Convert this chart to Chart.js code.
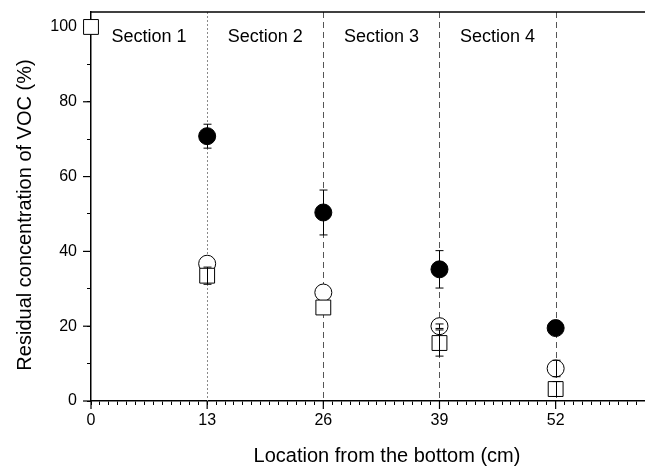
<!DOCTYPE html>
<html>
<head>
<meta charset="utf-8">
<script src="https://cdn.jsdelivr.net/npm/chart.js@4/dist/chart.umd.min.js"></script>
<style>
  body { margin: 0; background: #fff; }
  #wrap { width: 645px; height: 470px; }
</style>
</head>
<body>
<div id="wrap"><canvas id="chart" width="645" height="470"></canvas></div>
<script>
// values
var locations = [0, 13, 26, 39, 52];
var filledCircle = [null, 70.8, 50.4, 35.2, 19.5];
var filledCircleErr = [null, 3.2, 6, 5, 0.8];
var openCircle = [null, 36.7, 29, 20, 8.7];
var openCircleErr = [null, 0, 0, 0.6, 2.2];
var openSquare = [100, 33.5, 25, 15.5, 3.2];
var openSquareErr = [0, 2.3, 0, 3.5, 2];

var xMajorTicks = [0, 13, 26, 39, 52];
var yMajorTicks = [0, 20, 40, 60, 80, 100];
var sectionLines = [13, 26, 39, 52];
var sectionCenters = [6.5, 19.5, 32.5, 45.5];
var sectionLabels = ["Section 1", "Section 2", "Section 3", "Section 4"];
var xTitle = "Location from the bottom (cm)";
var yTitle = "Residual concentration of VOC (%)";

var FONT = "'Liberation Sans', Arial, sans-serif";

function withErrors(values, errs) {
  var pts = [];
  for (var i = 0; i < values.length; i++) {
    if (values[i] !== null) pts.push({ x: locations[i], y: values[i], err: errs[i] });
  }
  return pts;
}

var decorPlugin = {
  id: "decor",
  beforeDatasetsDraw: function(chart) {
    var ctx = chart.ctx;
    var area = chart.chartArea;
    var xs = chart.scales.x;
    var ys = chart.scales.y;
    ctx.save();
    // section boundaries
    for (var i = 0; i < sectionLines.length; i++) {
      var px = Math.round(xs.getPixelForValue(sectionLines[i])) + 0.5;
      ctx.beginPath();
      ctx.strokeStyle = i === 0 ? "#8a8a8a" : "#555";
      ctx.lineWidth = 1;
      ctx.setLineDash(i === 0 ? [2, 2] : [6, 4]);
      ctx.moveTo(px, area.top);
      ctx.lineTo(px, area.bottom);
      ctx.stroke();
    }
    ctx.setLineDash([]);
    // top frame line
    ctx.beginPath();
    ctx.strokeStyle = "#000";
    ctx.lineWidth = 1.5;
    ctx.moveTo(area.left, area.top);
    ctx.lineTo(area.right, area.top);
    ctx.stroke();
    // longer major ticks
    ctx.lineWidth = 1.2;
    for (var j = 0; j < xMajorTicks.length; j++) {
      var tx = xs.getPixelForValue(xMajorTicks[j]);
      ctx.beginPath();
      ctx.moveTo(tx, area.bottom);
      ctx.lineTo(tx, area.bottom + 8);
      ctx.stroke();
    }
    for (var k = 0; k < yMajorTicks.length; k++) {
      var ty = ys.getPixelForValue(yMajorTicks[k]);
      ctx.beginPath();
      ctx.moveTo(area.left, ty);
      ctx.lineTo(area.left - 8, ty);
      ctx.stroke();
    }
    // section labels
    ctx.fillStyle = "#000";
    ctx.font = "18px " + FONT;
    ctx.textAlign = "center";
    ctx.textBaseline = "middle";
    for (var s = 0; s < sectionLabels.length; s++) {
      ctx.fillText(sectionLabels[s], xs.getPixelForValue(sectionCenters[s]), ys.getPixelForValue(97.3));
    }
    // axis titles
    ctx.font = "20px " + FONT;
    ctx.fillText(xTitle, 387, 456);
    ctx.translate(25, 215);
    ctx.rotate(-Math.PI / 2);
    ctx.fillText(yTitle, 0, 0);
    ctx.restore();
  },
  afterDatasetsDraw: function(chart) {
    var ctx = chart.ctx;
    var xs = chart.scales.x;
    var ys = chart.scales.y;
    ctx.save();
    ctx.strokeStyle = "#000";
    ctx.lineWidth = 1;
    chart.data.datasets.forEach(function(ds) {
      ds.data.forEach(function(p) {
        if (!p.err) return;
        var px = Math.round(xs.getPixelForValue(p.x)) + 0.5;
        var top = ys.getPixelForValue(p.y + p.err);
        var bot = ys.getPixelForValue(p.y - p.err);
        ctx.beginPath();
        ctx.moveTo(px, top);
        ctx.lineTo(px, bot);
        ctx.moveTo(px - 4, top);
        ctx.lineTo(px + 4, top);
        ctx.moveTo(px - 4, bot);
        ctx.lineTo(px + 4, bot);
        ctx.stroke();
      });
    });
    ctx.restore();
  }
};

new Chart(document.getElementById("chart"), {
  type: "scatter",
  data: {
    datasets: [{
      label: "filled",
      data: withErrors(filledCircle, filledCircleErr),
      pointStyle: "circle",
      pointRadius: 8.5,
      pointBackgroundColor: "#000",
      pointBorderColor: "#000",
      pointBorderWidth: 1,
      clip: false
    }, {
      label: "square",
      data: withErrors(openSquare, openSquareErr),
      pointStyle: "rect",
      pointRadius: 10.5,
      pointBackgroundColor: "#fff",
      pointBorderColor: "#000",
      pointBorderWidth: 1,
      clip: false
    }, {
      label: "open",
      data: withErrors(openCircle, openCircleErr),
      pointStyle: "circle",
      pointRadius: 8.5,
      pointBackgroundColor: "#fff",
      pointBorderColor: "#000",
      pointBorderWidth: 1,
      clip: false
    }]
  },
  options: {
    responsive: false,
    animation: false,
    layout: { autoPadding: false, padding: { top: 12, right: 0, left: 0, bottom: 0 } },
    plugins: {
      legend: { display: false },
      tooltip: { enabled: false }
    },
    scales: {
      x: {
        type: "linear",
        min: 0,
        max: 62,
        afterBuildTicks: function(scale) {
          var t = [];
          for (var v = 0; v <= 62; v++) t.push({ value: v });
          scale.ticks = t;
        },
        afterFit: function(scale) {
          scale.height = 69;
          scale.paddingLeft = 0;
          scale.paddingRight = 0;
        },
        ticks: {
          autoSkip: false,
          maxRotation: 0,
          color: "#000",
          padding: 6,
          font: { family: FONT, size: 16 },
          callback: function(value) {
            return xMajorTicks.indexOf(value) >= 0 ? String(value) : "";
          }
        },
        grid: { drawOnChartArea: false, tickLength: 4, color: "#000", lineWidth: 1 },
        border: { display: true, color: "#000", width: 1.5 }
      },
      y: {
        min: 0,
        max: 104,
        afterBuildTicks: function(scale) {
          var t = [];
          for (var v = 0; v <= 100; v += 10) t.push({ value: v });
          scale.ticks = t;
        },
        afterFit: function(scale) {
          scale.width = 91;
          scale.paddingTop = 0;
          scale.paddingBottom = 0;
        },
        ticks: {
          color: "#000",
          padding: 10,
          font: { family: FONT, size: 16 },
          callback: function(value) {
            return yMajorTicks.indexOf(value) >= 0 ? String(value) : "";
          }
        },
        grid: { drawOnChartArea: false, tickLength: 4, color: "#000", lineWidth: 1 },
        border: { display: true, color: "#000", width: 1.5 }
      }
    }
  },
  plugins: [decorPlugin]
});
</script>
</body>
</html>
